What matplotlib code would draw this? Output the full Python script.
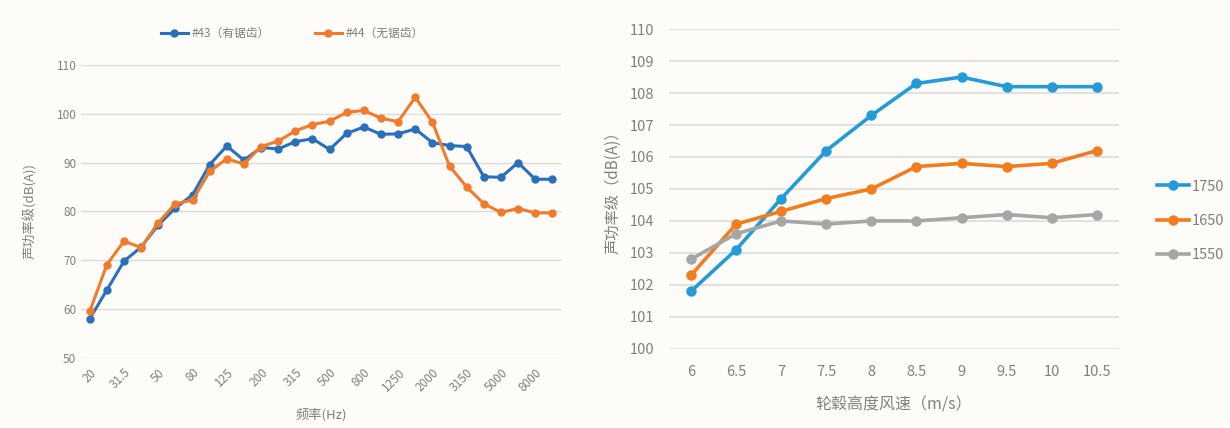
import numpy as np
import matplotlib
matplotlib.use("Agg")
import matplotlib.pyplot as plt

plt.rcParams['font.family'] = ['Noto Sans CJK SC', 'DejaVu Sans']

# left chart: 1/3 octave band sound power
freq = ['20', '25', '31.5', '40', '50', '63', '80', '100', '125', '160', '200', '250',
        '315', '400', '500', '630', '800', '1000', '1250', '1600', '2000', '2500',
        '3150', '4000', '5000', '6300', '8000', '10000']
lw_43 = [58.0, 63.9, 69.8, 72.7, 77.2, 80.7, 83.4, 89.6, 93.4, 90.5, 93.1, 92.8,
         94.3, 94.9, 92.7, 96.0, 97.3, 95.8, 95.9, 96.9, 94.1, 93.5, 93.3, 87.1,
         87.0, 90.0, 86.6, 86.6]
lw_44 = [59.5, 69.1, 73.9, 72.6, 77.7, 81.6, 82.3, 88.2, 90.8, 89.7, 93.3, 94.4,
         96.5, 97.8, 98.5, 100.3, 100.7, 99.1, 98.4, 103.4, 98.3, 89.3, 85.0, 81.6,
         79.8, 80.6, 79.7, 79.7]
series_left = ['#43（有锯齿）', '#44（无锯齿）']

# right chart: sound power vs hub height wind speed
wind = ['6', '6.5', '7', '7.5', '8', '8.5', '9', '9.5', '10', '10.5']
rpm_1750 = [101.8, 103.1, 104.7, 106.2, 107.3, 108.3, 108.5, 108.2, 108.2, 108.2]
rpm_1650 = [102.3, 103.9, 104.3, 104.7, 105.0, 105.7, 105.8, 105.7, 105.8, 106.2]
rpm_1550 = [102.8, 103.6, 104.0, 103.9, 104.0, 104.0, 104.1, 104.2, 104.1, 104.2]
series_right = ['1750', '1650', '1550']

txt = '#808080'
grid = '#dcdcdc'

fig = plt.figure(figsize=(12.3, 4.28), dpi=100)
fig.patch.set_facecolor('#fdfcf8')

# ---- left ----
ax1 = fig.add_axes([0.066, 0.164, 0.390, 0.684])
ax1.set_facecolor('#fdfcf8')
x1 = np.arange(len(freq))
ax1.plot(x1, lw_43, color='#2a6fb9', lw=2.2, marker='o', ms=5, label=series_left[0], zorder=3)
ax1.plot(x1, lw_44, color='#ef7b2d', lw=2.2, marker='o', ms=5, label=series_left[1], zorder=3)
ax1.set_xlim(-0.5, len(freq) - 0.5)
ax1.set_ylim(50, 110)
ax1.set_yticks(np.arange(50, 111, 10))
ax1.set_xticks(x1[::2])
ax1.set_xticklabels(freq[::2], rotation=45, ha='right', rotation_mode='anchor')
ax1.tick_params(length=0, labelsize=8.5, colors=txt)
ax1.tick_params(axis='x', pad=6)
ax1.grid(axis='y', color=grid, lw=1)
for s in ax1.spines.values():
    s.set_visible(False)
ax1.set_ylabel('声功率级(dB(A))', color=txt, fontsize=9.5, labelpad=14)
ax1.set_xlabel('频率(Hz)', color=txt, fontsize=9.5, labelpad=10)
ax1.legend(loc='lower center', bbox_to_anchor=(0.44, 1.05), ncol=2, frameon=False,
           fontsize=8.5, labelcolor=txt, handlelength=2.3, columnspacing=3.8,
           handletextpad=0.3)

# ---- right ----
ax2 = fig.add_axes([0.5435, 0.185, 0.3665, 0.747])
ax2.set_facecolor('#fdfcf8')
x2 = np.arange(len(wind))
ax2.plot(x2, rpm_1750, color='#259bd6', lw=2.6, marker='o', ms=6.5, label=series_right[0], zorder=3)
ax2.plot(x2, rpm_1650, color='#f27d20', lw=2.6, marker='o', ms=6.5, label=series_right[1], zorder=3)
ax2.plot(x2, rpm_1550, color='#a6a6a6', lw=2.6, marker='o', ms=6.5, label=series_right[2], zorder=3)
ax2.set_xlim(-0.5, len(wind) - 0.5)
ax2.set_ylim(100, 110)
ax2.set_yticks(np.arange(100, 111, 1))
ax2.set_xticks(x2)
ax2.set_xticklabels(wind)
ax2.tick_params(length=0, labelsize=10.5, colors=txt)
ax2.tick_params(axis='x', pad=12)
ax2.tick_params(axis='y', pad=10)
ax2.grid(axis='y', color=grid, lw=1.2)
for s in ax2.spines.values():
    s.set_visible(False)
ax2.set_ylabel('声功率级（dB(A)）', color=txt, fontsize=11, labelpad=6)
ax2.set_xlabel('轮毂高度风速（m/s）', color=txt, fontsize=11.5, labelpad=12)
ax2.legend(loc='center left', bbox_to_anchor=(1.055, 0.40), frameon=False,
           fontsize=10.5, labelcolor=txt, handlelength=2.2, handletextpad=0.2,
           labelspacing=1.4)

fig.savefig('out.png', dpi=100, facecolor=fig.get_facecolor())
